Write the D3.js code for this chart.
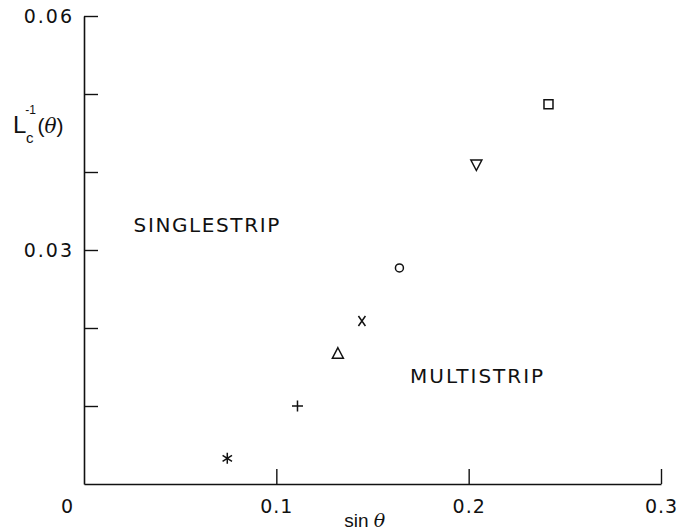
<!DOCTYPE html>
<html>
<head>
<meta charset="utf-8">
<script src="https://cdn.jsdelivr.net/npm/d3@7"></script>
<style>
body { margin:0; background:#fff; }
text { font-family: "DejaVu Sans", sans-serif; fill:#111; }
</style>
</head>
<body>
<svg id="chart"></svg>
<script>
// data
var sinTheta = [0.0745, 0.111, 0.132, 0.1445, 0.164, 0.204, 0.2415];
var invLc    = [0.0033, 0.0100, 0.0167, 0.0209, 0.0277, 0.0409, 0.0487];
var symbols  = ["asterisk", "plus", "triangle", "cross", "circle", "triangleDown", "square"];
var xTicks = [0.1, 0.2, 0.3];
var yTicks = [0.01, 0.02, 0.03, 0.04, 0.05, 0.06];
var yLabelled = [0.03, 0.06];

var screen = {width:678, height:531};
var margins = {top:16, bottom:47, left:84, right:17};
var graph = {
    width: screen.width - margins.left - margins.right,
    height: screen.height - margins.top - margins.bottom
};

var svg = d3.select("#chart")
    .attr("width", screen.width)
    .attr("height", screen.height);

var xScale = d3.scaleLinear().domain([0, 0.3]).range([0, graph.width]);
var yScale = d3.scaleLinear().domain([0, 0.06]).range([graph.height, 0]);

var g = svg.append("g")
    .attr("transform", "translate(" + margins.left + "," + margins.top + ")");

// axes, ticks pointing inward
var xAxis = d3.axisBottom(xScale)
    .tickValues(xTicks)
    .tickSizeInner(-15)
    .tickSizeOuter(0)
    .tickPadding(16)
    .tickFormat(d3.format(".1f"));

var yAxis = d3.axisLeft(yScale)
    .tickValues(yTicks)
    .tickSizeInner(-14)
    .tickSizeOuter(0)
    .tickPadding(10)
    .tickFormat(function(d) { return yLabelled.indexOf(d) >= 0 ? d3.format(".2f")(d) : ""; });

var gx = g.append("g")
    .attr("transform", "translate(0," + graph.height + ")")
    .call(xAxis);
var gy = g.append("g").call(yAxis);

[gx, gy].forEach(function(a) {
    a.select(".domain").attr("stroke", "#111").attr("stroke-width", 1.6);
    a.selectAll(".tick line").attr("stroke", "#111").attr("stroke-width", 1.4);
    a.selectAll("text").style("font-family", "'DejaVu Sans', sans-serif")
        .style("font-size", "19px").attr("fill", "#111");
});
gy.selectAll("text").attr("dy", "0.36em").style("letter-spacing", "2px");
gx.selectAll("text").style("letter-spacing", "1px");

// the lone "0" under the origin
g.append("text")
    .attr("x", xScale(0) - 17)
    .attr("y", graph.height + 16)
    .attr("dy", "0.71em")
    .attr("text-anchor", "middle")
    .style("font-size", "19px")
    .text("0");

// x label
var xl = g.append("text")
    .attr("x", xScale(0.146))
    .attr("y", graph.height + 43)
    .attr("text-anchor", "middle")
    .style("font-family", "'Liberation Sans', sans-serif")
    .style("font-size", "19px");
xl.append("tspan").text("sin ");
xl.append("tspan").style("font-style", "italic").style("font-family", "'DejaVu Serif', serif").text("θ");

// y label  L_c^-1(θ) as one text
var yl = svg.append("text")
    .attr("x", 13)
    .attr("y", 133)
    .style("font-family", "'Liberation Sans', sans-serif")
    .style("font-size", "24px");
yl.append("tspan").text("L");
yl.append("tspan").attr("dx", -1).attr("dy", -19).style("font-size", "12px").text("-1");
yl.append("tspan").attr("dx", -10).attr("dy", 29).style("font-size", "15px").text("c");
yl.append("tspan").attr("dx", 4).attr("dy", -10).style("font-size", "21px").text("(");
yl.append("tspan").style("font-size", "20px").style("font-style", "italic")
    .style("font-family", "'DejaVu Serif', serif").text("θ");
yl.append("tspan").style("font-size", "21px").text(")");

// region labels
g.append("text")
    .attr("x", xScale(0.0258))
    .attr("y", yScale(0.0323))
    .style("font-size", "20px")
    .style("letter-spacing", "1.6px")
    .text("SINGLESTRIP");
g.append("text")
    .attr("x", xScale(0.1695))
    .attr("y", yScale(0.0129))
    .style("font-size", "20px")
    .style("letter-spacing", "2px")
    .text("MULTISTRIP");

// markers
var points = sinTheta.map(function(s, i) { return {x:s, y:invLc[i], sym:symbols[i]}; });

var markerPath = function(sym) {
    var p = d3.path();
    if (sym === "square") {
        p.rect(-4.5, -4.5, 9, 9);
    } else if (sym === "circle") {
        p.arc(0, 0, 4, 0, 2 * Math.PI);
    } else if (sym === "triangle") {
        p.moveTo(0, -6); p.lineTo(5.5, 4.5); p.lineTo(-5.5, 4.5); p.closePath();
    } else if (sym === "triangleDown") {
        p.moveTo(0, 5.5); p.lineTo(5.5, -5); p.lineTo(-5.5, -5); p.closePath();
    } else if (sym === "cross") {
        p.moveTo(-3.5, -5); p.lineTo(3.5, 5);
        p.moveTo(3.5, -5); p.lineTo(-3.5, 5);
    } else if (sym === "plus") {
        p.moveTo(-5.5, 0); p.lineTo(5.5, 0);
        p.moveTo(0, -5.5); p.lineTo(0, 5.5);
    } else if (sym === "asterisk") {
        p.moveTo(0, -5.5); p.lineTo(0, 5.5);
        p.moveTo(-4.7, -3); p.lineTo(4.7, 3);
        p.moveTo(4.7, -3); p.lineTo(-4.7, 3);
    }
    return p.toString();
};

g.selectAll("path.marker")
    .data(points)
    .enter()
    .append("path")
    .attr("class", "marker")
    .attr("transform", function(d) { return "translate(" + xScale(d.x) + "," + yScale(d.y) + ")"; })
    .attr("d", function(d) { return markerPath(d.sym); })
    .attr("fill", "none")
    .attr("stroke", "#111")
    .attr("stroke-width", 1.5);
</script>
</body>
</html>
